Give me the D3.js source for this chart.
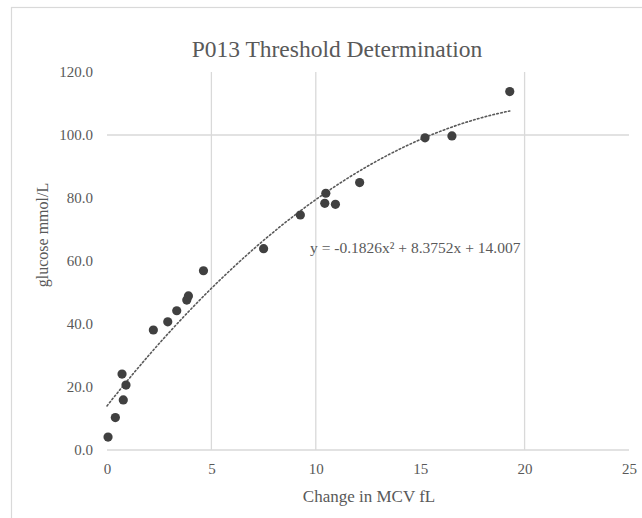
<!DOCTYPE html>
<html>
<head>
<meta charset="utf-8">
<script src="https://cdn.jsdelivr.net/npm/d3@7"></script>
<style>
  html, body { margin: 0; padding: 0; background: #fff; }
  svg { display: block; }
</style>
</head>
<body>
<svg id="chart" width="642" height="518"></svg>
<script>
// ---- data ----
const mcvChange = [0.05, 0.4, 0.72, 0.78, 0.91, 2.22, 2.91, 3.34, 3.82, 3.9, 4.62, 7.5, 9.26, 10.48, 10.43, 10.94, 12.1, 15.23, 16.52, 19.29];
const glucose   = [4.1, 10.3, 24.1, 15.9, 20.6, 38.1, 40.7, 44.2, 47.6, 48.9, 56.9, 63.9, 74.6, 81.5, 78.3, 78.0, 84.9, 99.1, 99.7, 113.8];
const trendCoefficients = [-0.1826, 8.3752, 14.007]; // a x^2 + b x + c
const xTicks = [0, 5, 10, 15, 20, 25];
const yTicks = [0, 20, 40, 60, 80, 100, 120];
const xGridShown = [5, 10, 20];
const yGridShown = [100];
const chartTitle = "P013 Threshold Determination";
const xTitle = "Change in MCV fL";
const yTitle = "glucose mmol/L";
const equationText = "y = -0.1826x\u00B2 + 8.3752x + 14.007";

// ---- layout ----
const FONT = "'Liberation Serif', 'Times New Roman', serif";
const svg = d3.select("#chart");
const x = d3.scaleLinear().domain([0, 25]).range([107, 629]);
const y = d3.scaleLinear().domain([0, 120]).range([450, 72]);
const textCol = "#595959";
const gridCol = "#d9d9d9";

// chart border
svg.append("rect").attr("x", 11.5).attr("y", 7.5).attr("width", 640).attr("height", 520)
  .attr("fill", "none").attr("stroke", gridCol).attr("stroke-width", 1.2);

// gridlines
svg.append("g").selectAll("line").data(xGridShown).join("line")
  .attr("x1", d => x(d)).attr("x2", d => x(d))
  .attr("y1", y(120)).attr("y2", y(0))
  .attr("stroke", gridCol).attr("stroke-width", 1.3);
svg.append("g").selectAll("line").data(yGridShown).join("line")
  .attr("x1", x(0)).attr("x2", x(25))
  .attr("y1", d => y(d)).attr("y2", d => y(d))
  .attr("stroke", gridCol).attr("stroke-width", 1.3);

// x axis line
svg.append("line").attr("x1", x(0)).attr("x2", x(25)).attr("y1", y(0)).attr("y2", y(0))
  .attr("stroke", gridCol).attr("stroke-width", 1.6);

// axes tick labels
const xAxis = svg.append("g").attr("transform", `translate(0,${y(0)})`)
  .call(d3.axisBottom(x).tickValues(xTicks).tickSize(0).tickPadding(13).tickFormat(d3.format("d")));
xAxis.select(".domain").remove();
xAxis.attr("font-family", FONT);
xAxis.selectAll("text").attr("font-size", 15).attr("fill", textCol).attr("font-family", FONT);

const yAxis = svg.append("g").attr("transform", `translate(${x(0)},0)`)
  .call(d3.axisLeft(y).tickValues(yTicks).tickSize(0).tickPadding(14).tickFormat(d3.format(".1f")));
yAxis.select(".domain").remove();
yAxis.attr("font-family", FONT);
yAxis.selectAll("text").attr("font-size", 15).attr("fill", textCol).attr("font-family", FONT);

// trendline
const [a, b, c] = trendCoefficients;
const xMax = d3.max(mcvChange);
const trendPts = d3.range(0, 101).map(i => {
  const xv = xMax * i / 100;
  return [xv, a * xv * xv + b * xv + c];
});
svg.append("path").datum(trendPts)
  .attr("d", d3.line().x(d => x(d[0])).y(d => y(d[1])))
  .attr("fill", "none").attr("stroke", "#595959").attr("stroke-width", 1.6)
  .attr("stroke-dasharray", "1.6,2.4").attr("stroke-linecap", "round");

// points
svg.append("g").selectAll("circle").data(mcvChange.map((d, i) => [d, glucose[i]])).join("circle")
  .attr("cx", d => x(d[0])).attr("cy", d => y(d[1])).attr("r", 4.6)
  .attr("fill", "#404040");

// equation label
svg.append("text").attr("x", 310).attr("y", 252.5).attr("font-family", FONT)
  .attr("font-size", 15.5).attr("fill", textCol).text(equationText);

// titles
svg.append("text").attr("x", 337).attr("y", 57).attr("text-anchor", "middle").attr("font-family", FONT)
  .attr("font-size", 23.5).attr("fill", textCol).text(chartTitle);
svg.append("text").attr("x", 369).attr("y", 502).attr("text-anchor", "middle").attr("font-family", FONT)
  .attr("font-size", 17).attr("fill", textCol).text(xTitle);
svg.append("text").attr("transform", "translate(48,235) rotate(-90)").attr("text-anchor", "middle").attr("font-family", FONT)
  .attr("font-size", 16).attr("fill", textCol).text(yTitle);
</script>
</body>
</html>
